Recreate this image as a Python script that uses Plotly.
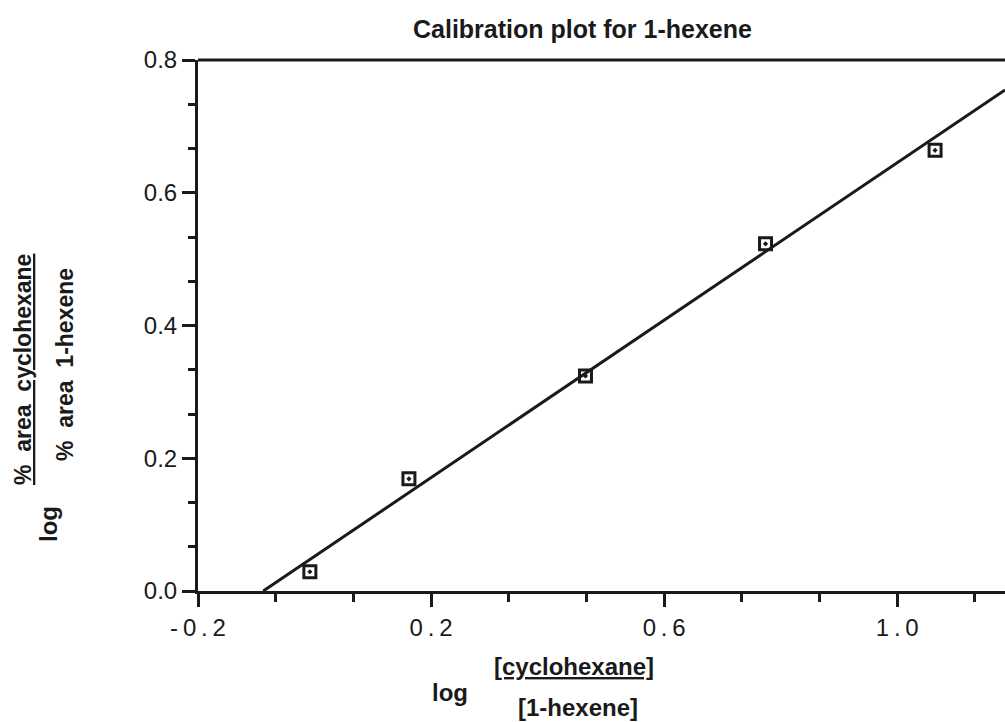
import plotly.graph_objects as go

# Measured calibration points
x_vals = [-0.008, 0.162, 0.465, 0.774, 1.065]
y_vals = [0.029, 0.169, 0.324, 0.523, 0.664]

# Least-squares calibration line (end points)
fit_x = [-0.088, 1.185]
fit_y = [0.0, 0.755]

# Tick labels
x_tick_vals = [-0.2, 0.2, 0.6, 1.0]
x_tick_text = ["-0.2", "0.2", "0.6", "1.0"]
y_tick_vals = [0.0, 0.2, 0.4, 0.6, 0.8]
y_tick_text = ["0.0", "0.2", "0.4", "0.6", "0.8"]

INK = "#1a1a1a"
FONT = "Liberation Sans, Arial, sans-serif"
W, H = 1005, 722
L, R, T, B = 198, 0, 60, 131
PW, PH = W - L - R, H - T - B


def px(x):
    return (x - L) / PW


def py(y):
    return (H - B - y) / PH


def spaced(s):
    return "\u2009".join(s)


fig = go.Figure()

fig.add_trace(go.Scatter(
    x=fit_x, y=fit_y, mode="lines",
    line=dict(color=INK, width=3),
    hoverinfo="skip", showlegend=False,
))

fig.add_trace(go.Scatter(
    x=x_vals, y=y_vals, mode="markers",
    marker=dict(symbol="square-open-dot", size=12, color=INK,
                line=dict(color=INK, width=3)),
    showlegend=False,
))

axis_common = dict(
    showgrid=False, zeroline=False, showline=True,
    linecolor=INK, linewidth=3,
    ticks="outside", tickcolor=INK, tickwidth=2.5, ticklen=13,
    tickfont=dict(family=FONT, size=24, color=INK),
)

fig.update_xaxes(
    **axis_common,
    range=[-0.2, 1.185],
    tickmode="array", tickvals=x_tick_vals,
    ticktext=[spaced(t) for t in x_tick_text],
    minor=dict(ticks="outside", ticklen=8, tickwidth=2.5, tickcolor=INK,
               tick0=-0.2, dtick=0.4 / 3),
)

fig.update_yaxes(
    **axis_common,
    range=[0.0, 0.8],
    tickmode="array", tickvals=y_tick_vals, ticktext=y_tick_text,
    minor=dict(ticks="outside", ticklen=7, tickwidth=2.5, tickcolor=INK,
               tick0=0.0, dtick=0.2 / 3),
)

# Top frame line
fig.add_shape(type="line", xref="paper", yref="paper",
              x0=0, x1=1, y0=1, y1=1,
              line=dict(color=INK, width=3))

bold = dict(family=FONT, size=24, color=INK, weight="bold")
bold_frac = dict(family=FONT, size=23, color=INK, weight="bold")
gap = "\u00a0\u00a0"

annotations = [
    # chart title
    dict(text="Calibration plot for 1-hexene", x=px(582), y=py(29),
         font=dict(family=FONT, size=25, color=INK, weight="bold")),
    # x-axis title: log ([cyclohexane]/[1-hexene])
    dict(text="log", x=px(450), y=py(692), font=bold),
    dict(text="<u>[cyclohexane]</u>", x=px(574), y=py(666), font=bold),
    dict(text="[1-hexene]", x=px(578), y=py(707), font=bold),
    # y-axis title: log (% area cyclohexane / % area 1-hexene)
    dict(text="log", x=px(48), y=py(524), font=bold, textangle=-90),
    dict(text=f"<u>%{gap}area{gap}cyclohexane</u>", x=px(23),
         y=py(370), font=bold_frac, textangle=-90),
    dict(text=f"%{gap}area{gap}1-hexene", x=px(65), y=py(365),
         font=bold_frac, textangle=-90),
]
for a in annotations:
    a.update(xref="paper", yref="paper", showarrow=False,
             xanchor="center", yanchor="middle")

fig.update_layout(
    width=W, height=H,
    margin=dict(l=L, r=R, t=T, b=B, autoexpand=False),
    paper_bgcolor="white", plot_bgcolor="white",
    annotations=annotations,
    showlegend=False,
)

fig.write_html("out.html")
